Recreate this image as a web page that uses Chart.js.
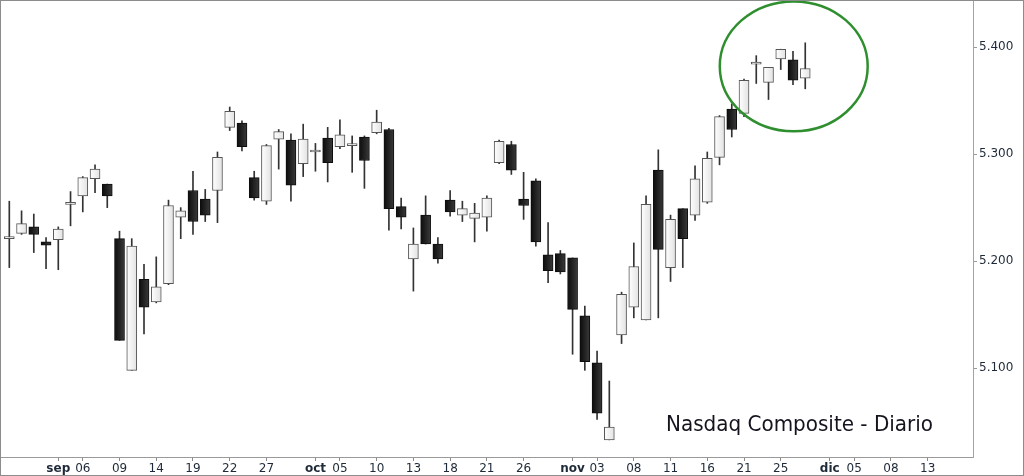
<!DOCTYPE html>
<html>
<head>
<meta charset="utf-8">
<script src="https://cdn.jsdelivr.net/npm/chart.js@4.4.0/dist/chart.umd.min.js"></script>
<style>
    html, body { margin: 0; padding: 0; background: #fff; }
    .chart-box { position: relative; width: 1024px; height: 476px; }
</style>
</head>
<body>
<div class="chart-box">
    <canvas id="myChart" width="1024" height="476"></canvas>
</div>

<script>
    // sesiones (Nasdaq Composite, diario)
    const days = ['26/08','29/08','30/08','31/08','01/09','02/09','06/09','07/09','08/09','09/09',
        '12/09','13/09','14/09','15/09','16/09','19/09','20/09','21/09','22/09','23/09',
        '26/09','27/09','28/09','29/09','30/09','03/10','04/10','05/10','06/10','07/10',
        '10/10','11/10','12/10','13/10','14/10','17/10','18/10','19/10','20/10','21/10',
        '24/10','25/10','26/10','27/10','28/10','31/10','01/11','02/11','03/11','04/11',
        '07/11','08/11','09/11','10/11','11/11','14/11','15/11','16/11','17/11','18/11',
        '21/11','22/11','23/11','25/11','28/11','29/11'];

    const opens = [5221,5226,5232,5218,5220,5253,5261,5277,5272,5221,
        5098,5183,5162,5179,5241,5266,5258,5266,5325,5329,
        5278,5256,5314,5313,5291,5302,5315,5307,5308,5316,
        5320,5323,5251,5202,5243,5216,5257,5243,5240,5241,
        5292,5309,5258,5275,5206,5207,5203,5149,5105,5033,
        5131,5157,5145,5285,5194,5249,5243,5255,5297,5342,
        5338,5384,5367,5389,5388,5371];
    const highs = [5256,5247,5244,5222,5232,5265,5279,5290,5272,5228,
        5221,5197,5204,5257,5250,5284,5267,5302,5344,5331,
        5284,5309,5323,5319,5328,5310,5325,5332,5317,5317,
        5341,5324,5259,5231,5261,5222,5266,5256,5254,5261,
        5313,5312,5283,5277,5236,5210,5203,5158,5116,5088,
        5171,5217,5261,5304,5243,5249,5289,5302,5336,5347,
        5370,5392,5381,5398,5396,5404];
    const lows = [5194,5225,5208,5193,5192,5233,5246,5264,5250,5126,
        5098,5132,5161,5178,5221,5225,5237,5236,5322,5303,
        5257,5253,5286,5256,5279,5284,5274,5305,5283,5268,
        5319,5229,5230,5172,5216,5198,5242,5237,5218,5228,
        5291,5281,5239,5214,5180,5188,5113,5098,5052,5033,
        5123,5147,5145,5147,5181,5194,5238,5254,5290,5316,
        5335,5366,5351,5379,5365,5361];
    const closes = [5221,5235,5225,5215,5230,5253,5278,5286,5261,5126,
        5214,5157,5176,5252,5247,5237,5243,5297,5340,5307,
        5259,5308,5321,5271,5314,5302,5292,5318,5308,5294,
        5330,5249,5241,5216,5216,5202,5246,5249,5245,5259,
        5312,5285,5252,5218,5191,5190,5155,5106,5058,5045,
        5169,5195,5253,5211,5239,5221,5277,5296,5335,5323,
        5369,5386,5381,5398,5369,5380];

    // etiquetas del eje X (posición en número de sesión)
    const tickPos = [4,6,9,12,15,18,21,25,27,30,33,36,39,42,46,48,51,54,57,60,63,67,69,72,75];
    const tickLabels = ['sep','06','09','14','19','22','27','oct','05','10','13','18','21','26',
        'nov','03','08','11','16','21','25','dic','05','08','13'];
    const months = ['sep','oct','nov','dic'];
    const yTicks = [5100, 5200, 5300, 5400];

    const title = 'Nasdaq Composite - Diario';
    // círculo verde (en unidades de datos)
    const circle = { x: 64.06, y: 5382, rx: 6.04, ry: 60.7 };

    const idx = opens.map((_, i) => i);
    const bodies = idx.map(i => ({ x: i, y: [opens[i], closes[i]] }));
    const wicks = idx.map(i => ({ x: i, y: [lows[i], highs[i]] }));
    const isUp = i => closes[i] >= opens[i];

    // degradado horizontal dentro de cada vela
    const shading = {
        id: 'shading',
        beforeDatasetsDraw(chart) {
            const ctx = chart.ctx;
            chart.getDatasetMeta(0).data.forEach((bar, i) => {
                const g = ctx.createLinearGradient(bar.x - 5, 0, bar.x + 5, 0);
                if (isUp(i)) {
                    g.addColorStop(0, '#ffffff');
                    g.addColorStop(1, '#e2e2e2');
                } else {
                    g.addColorStop(0, '#0c0c0c');
                    g.addColorStop(1, '#3a3a3a');
                }
                bar.options.backgroundColor = g;
            });
        }
    };

    const overlay = {
        id: 'overlay',
        afterDraw(chart) {
            const { ctx, scales: { x, y } } = chart;
            ctx.save();
            // elipse
            const cx = x.getPixelForValue(circle.x);
            const cy = y.getPixelForValue(circle.y);
            const rx = x.getPixelForValue(circle.x + circle.rx) - cx;
            const ry = cy - y.getPixelForValue(circle.y + circle.ry);
            ctx.beginPath();
            ctx.ellipse(cx, cy, rx, ry, 0, 0, Math.PI * 2);
            ctx.strokeStyle = '#2f8f2f';
            ctx.lineWidth = 2.5;
            ctx.stroke();
            // título
            ctx.font = '22px "Liberation Sans Narrow", "DejaVu Sans Condensed", "Noto Sans", sans-serif';
            ctx.fillStyle = '#14141e';
            const w = ctx.measureText(title).width;
            ctx.translate(666, 431);
            ctx.scale(267 / w, 1);
            ctx.fillText(title, 0, 0);
            ctx.restore();
            // marco
            ctx.save();
            ctx.strokeStyle = '#8c8c8c';
            ctx.lineWidth = 1;
            ctx.strokeRect(0.5, 0.5, 1023, 475);
            ctx.restore();
        }
    };

    const chartElement = document.getElementById('myChart');
    const myChart = new Chart(chartElement, {
        type: 'bar',
        data: {
            datasets: [{
                data: bodies,
                order: 1,
                grouped: false,
                barThickness: 10,
                minBarLength: 2,
                borderWidth: 1,
                borderSkipped: false,
                backgroundColor: c => isUp(c.dataIndex) ? '#f0f0f0' : '#1c1c1c',
                borderColor: c => isUp(c.dataIndex) ? '#555' : '#0d0d0d'
            }, {
                data: wicks,
                order: 2,
                grouped: false,
                barThickness: 1,
                borderWidth: 0,
                backgroundColor: '#333'
            }]
        },
        options: {
            responsive: false,
            animation: false,
            layout: { padding: 0 },
            plugins: { legend: { display: false }, tooltip: { enabled: false } },
            scales: {
                x: {
                    type: 'linear',
                    min: -0.76,
                    max: 78.7,
                    offset: false,
                    grid: { offset: false, drawOnChartArea: false, tickLength: 4, color: '#8a8a8a' },
                    border: { color: '#9a9a9a' },
                    afterBuildTicks: ax => { ax.ticks = tickPos.map(v => ({ value: v })); },
                    ticks: {
                        autoSkip: false,
                        maxRotation: 0,
                        padding: 1,
                        color: '#1e2a38',
                        font: c => ({
                            family: 'DejaVu Sans',
                            size: 12,
                            weight: months.includes(tickLabels[c.index]) ? 'bold' : 'normal'
                        }),
                        callback: (v, i) => tickLabels[i]
                    },
                    afterFit: ax => {
                        ax.height = 19;
                        ax.paddingLeft = 0;
                        ax.paddingRight = 0;
                    }
                },
                y: {
                    position: 'right',
                    min: 5017,
                    max: 5444,
                    grid: { drawOnChartArea: false, tickLength: 4, color: '#8f9aa5' },
                    border: { color: '#9aa5b0' },
                    afterBuildTicks: ax => { ax.ticks = yTicks.map(v => ({ value: v })); },
                    ticks: {
                        padding: 2,
                        color: '#1e2a38',
                        font: { family: 'DejaVu Sans', size: 12 },
                        callback: v => (v / 1000).toFixed(3)
                    },
                    afterFit: ax => {
                        ax.width = 51;
                        ax.paddingTop = 0;
                        ax.paddingBottom = 0;
                    }
                }
            }
        },
        plugins: [shading, overlay]
    });
</script>
</body>
</html>
